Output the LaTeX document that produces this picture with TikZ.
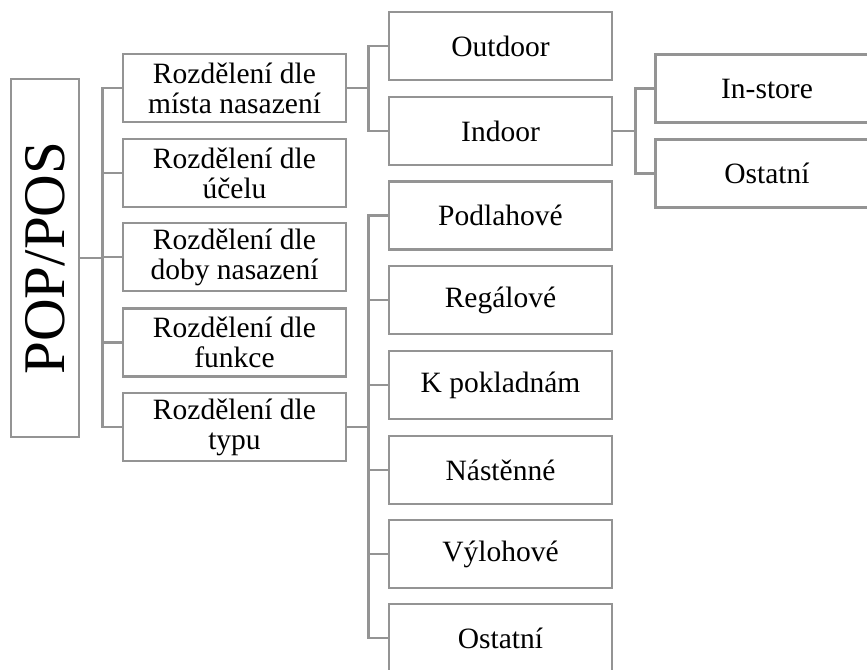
\documentclass[tikz,border=0pt]{standalone}
\usepackage{fontspec}
\setmainfont{Liberation Serif}
\definecolor{linegray}{RGB}{148,148,148}
\begin{document}
\begin{tikzpicture}[x=1pt,y=-1pt,
  box/.style={draw=linegray, line width=2.7pt, minimum width=223pt, minimum height=68pt, inner sep=0pt, align=center, font=\fontsize{29.5}{30}\selectfont},
  conn/.style={draw=linegray, line width=2.7pt},
  bigtext/.style={rotate=90, inner sep=0pt, font=\fontsize{59}{59}\selectfont}]
\useasboundingbox (0,0) rectangle (867,669);
\clip (0,0) rectangle (867,669);
% root
\node[box, minimum width=68pt, minimum height=358pt] (pop) at (45,258) {};
\node[bigtext] (poptext) at (pop.center) {POP/POS};
% level 1
\node[box] (m1) at (234.5,88) {Rozdělení dle\\místa nasazení};
\node[box] (m2) at (234.5,173) {Rozdělení dle\\účelu};
\node[box] (m3) at (234.5,257) {Rozdělení dle\\doby nasazení};
\node[box] (m4) at (234.5,342.5) {Rozdělení dle\\funkce};
\node[box] (m5) at (234.5,427) {Rozdělení dle\\typu};
% level 2 (místa nasazení)
\node[box] (out) at (500.5,46) {Outdoor};
\node[box] (ind) at (500.5,131) {Indoor};
% level 3
\node[box] (ins) at (767,88.5) {In-store};
\node[box] (ost1) at (767,173.5) {Ostatní};
% level 2 (typu)
\node[box] (t1) at (500.5,215.5) {Podlahové};
\node[box] (t2) at (500.5,300) {Regálové};
\node[box] (t3) at (500.5,385) {K pokladnám};
\node[box] (t4) at (500.5,470) {Nástěnné};
\node[box] (t5) at (500.5,554) {Výlohové};
\node[box] (t6) at (500.5,638) {Ostatní};
% connectors
\foreach \c in {m1,m2,m3,m4,m5}
  \draw[conn] (pop.east) -- ++(22,0) |- (\c.west);
\foreach \c in {out,ind}
  \draw[conn] (m1.east) -- ++(21,0) |- (\c.west);
\foreach \c in {ins,ost1}
  \draw[conn] (ind.east) -- ++(22,0) |- (\c.west);
\foreach \c in {t1,t2,t3,t4,t5,t6}
  \draw[conn] (m5.east) -- ++(21,0) |- (\c.west);
\end{tikzpicture}
\end{document}
